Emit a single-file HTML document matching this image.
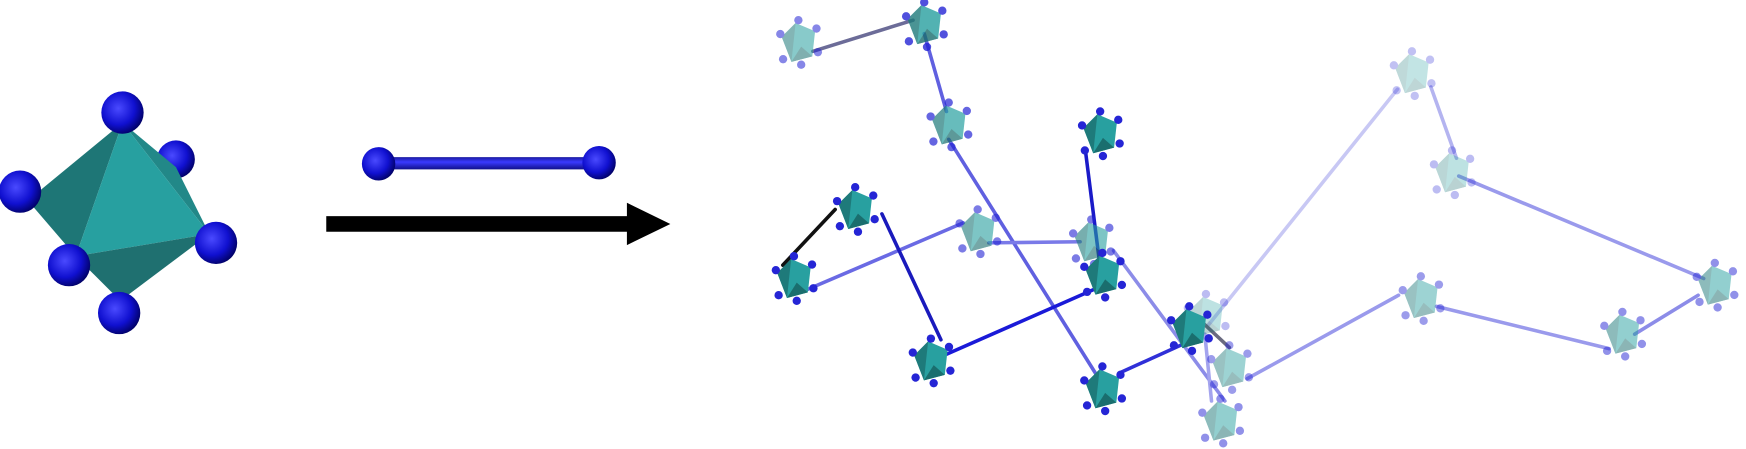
<!DOCTYPE html>
<html><head><meta charset="utf-8"><style>html,body{margin:0;padding:0;background:#fff;}svg{display:block}</style></head>
<body>
<svg width="1746" height="449" viewBox="0 0 1568 403" xmlns="http://www.w3.org/2000/svg">
<defs>
<radialGradient id="sph" cx="0.4" cy="0.4" r="0.65">
<stop offset="0" stop-color="#4a4aff"/><stop offset="0.6" stop-color="#1010d0"/><stop offset="1" stop-color="#000060"/>
</radialGradient>
<linearGradient id="bar" x1="0" y1="0" x2="0" y2="1">
<stop offset="0" stop-color="#1a1aa0"/><stop offset="0.4" stop-color="#3a3aff"/><stop offset="1" stop-color="#10108a"/>
</linearGradient>
<g id="nd0">
<polygon points="-12,-4 -2,-14 12,-8 10,10 -5,14" fill="#28a0a0"/>
<polygon points="-12,-4 -2,-14 -5,14" fill="#1e7a7a"/>
<polygon points="-5,14 10,10 2,3" fill="#1a6e6e"/>
<g fill="#2525d5">
<circle cx="-13" cy="-6" r="3"/><circle cx="0" cy="-16" r="3"/><circle cx="13" cy="-10" r="3"/>
<circle cx="14" cy="7" r="3"/><circle cx="2" cy="16" r="3"/><circle cx="-11" cy="12" r="3"/>
</g>
</g>
<g id="nd"><use href="#nd0" transform="scale(1.25)"/></g>
</defs>

<!-- left octahedron -->
<circle cx="158" cy="143" r="17" fill="url(#sph)"/>
<polygon points="110,110 158,150 188,210" fill="#228888"/>
<polygon points="110,110 25,180 68,230" fill="#1e7676"/>
<polygon points="110,110 68,230 188,210" fill="#27a0a0"/>
<polygon points="68,230 188,210 108,270" fill="#1f7070"/>
<circle cx="110" cy="101" r="19" fill="url(#sph)"/>
<circle cx="18" cy="172" r="19" fill="url(#sph)"/>
<circle cx="194" cy="218" r="19" fill="url(#sph)"/>
<circle cx="62" cy="238" r="19" fill="url(#sph)"/>
<circle cx="107" cy="281" r="19" fill="url(#sph)"/>

<!-- bar -->
<rect x="340" y="141" width="198" height="11" fill="url(#bar)"/>
<circle cx="340" cy="147" r="15" fill="url(#sph)"/>
<circle cx="538" cy="146" r="15" fill="url(#sph)"/>

<!-- arrow -->
<rect x="293" y="194" width="272" height="14" fill="#000"/>
<polygon points="563,182 602,201 563,220" fill="#000"/>

<!-- edges -->
<g stroke-width="3.2" stroke-linecap="round" fill="none">
<line x1="1255" y1="80" x2="1085" y2="292" stroke="#c8c8f4"/>
<line x1="1285" y1="78" x2="1308" y2="142" stroke="#b4b4f0"/>
<line x1="1310" y1="158" x2="1530" y2="250" stroke="#9a9aec"/>
<line x1="1468" y1="300" x2="1525" y2="265" stroke="#8c8ce8"/>
<line x1="1290" y1="275" x2="1445" y2="313" stroke="#9a9aec"/>
<line x1="1120" y1="340" x2="1256" y2="265" stroke="#9a9aec"/>
<line x1="1000" y1="225" x2="1100" y2="360" stroke="#8c8ce8"/>
<line x1="1082" y1="300" x2="1088" y2="360" stroke="#a4a4ee"/>
<line x1="730" y1="46" x2="820" y2="18" stroke="#6c6c98"/>
<line x1="830" y1="30" x2="850" y2="100" stroke="#6060e0"/>
<line x1="852" y1="125" x2="985" y2="337" stroke="#6060e0"/>
<line x1="720" y1="262" x2="865" y2="200" stroke="#6a6ae4"/>
<line x1="888" y1="218" x2="970" y2="217" stroke="#7a7ae8"/>
<line x1="975" y1="137" x2="987" y2="232" stroke="#1a1ac8"/>
<line x1="750" y1="188" x2="703" y2="238" stroke="#111"/>
<line x1="792" y1="192" x2="845" y2="305" stroke="#1a1abc"/>
<line x1="850" y1="318" x2="982" y2="260" stroke="#1a1ad8"/>
<line x1="1005" y1="335" x2="1060" y2="310" stroke="#3030d8"/>
<line x1="1075" y1="285" x2="1104" y2="312" stroke="#6a6a80"/>
</g>

<!-- nodes -->
<use href="#nd" x="1268" y="66" opacity="0.28"/>
<use href="#nd" x="1304" y="155" opacity="0.3"/>
<use href="#nd" x="1083" y="284" opacity="0.3"/>
<use href="#nd" x="1540" y="256" opacity="0.5"/>
<use href="#nd" x="1457" y="300" opacity="0.5"/>
<use href="#nd" x="1276" y="268" opacity="0.45"/>
<use href="#nd" x="1104" y="330" opacity="0.45"/>
<use href="#nd" x="1096" y="378" opacity="0.5"/>
<use href="#nd" x="717" y="38" opacity="0.55"/>
<use href="#nd" x="830" y="22" opacity="0.8"/>
<use href="#nd" x="852" y="112" opacity="0.7"/>
<use href="#nd" x="878" y="208" opacity="0.6"/>
<use href="#nd" x="980" y="217" opacity="0.6"/>
<use href="#nd" x="988" y="120"/>
<use href="#nd" x="768" y="188"/>
<use href="#nd" x="713" y="250"/>
<use href="#nd" x="990" y="247"/>
<use href="#nd" x="836" y="324"/>
<use href="#nd" x="990" y="349"/>
<use href="#nd" x="1068" y="295"/>
</svg>
</body></html>
